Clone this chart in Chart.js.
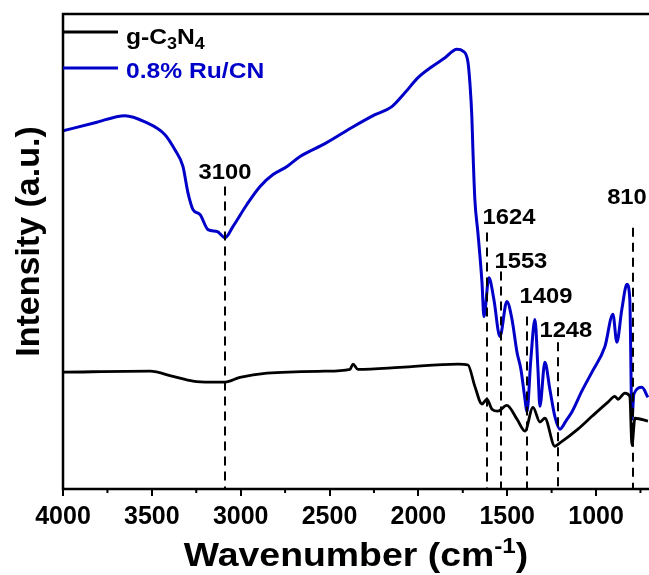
<!DOCTYPE html>
<html>
<head>
<meta charset="utf-8">
<script src="https://cdn.jsdelivr.net/npm/chart.js@4.4.0/dist/chart.umd.min.js"></script>
<style>
html, body { margin: 0; padding: 0; background: #fff; }
canvas { display: block; }
</style>
</head>
<body>
<canvas id="grafico" width="649" height="575"></canvas>
<script>
// Espectro FTIR 0.8% Ru/CN (curva azul)
const ruWn = [4000, 3820, 3651, 3539, 3426, 3370, 3325, 3297, 3268, 3229, 3184, 3133, 3088, 3043, 2965, 2891, 2818, 2739, 2666, 2526, 2374, 2244, 2149, 2076, 2002, 1924, 1850, 1783, 1749, 1721, 1710, 1699, 1693, 1682, 1665, 1642, 1631, 1603, 1575, 1541, 1502, 1473, 1445, 1423, 1400, 1389, 1367, 1344, 1327, 1316, 1288, 1260, 1232, 1203, 1170, 1136, 1080, 1023, 950, 905, 883, 855, 826, 810, 798, 787, 742, 708]
const ruI = [75.4, 77.1, 78.6, 77.3, 74.6, 71.4, 67.9, 62.4, 58.8, 57.8, 54.6, 54.2, 52.9, 55.3, 59.9, 63.7, 66.2, 67.9, 70.0, 72.7, 76.1, 78.8, 80.5, 83.4, 86.6, 88.9, 90.8, 92.6, 92.2, 89.9, 85.5, 78.4, 71.4, 60.9, 54.0, 43.5, 36.3, 44.5, 39.9, 32.1, 39.5, 35.7, 28.8, 25.2, 18.9, 16.2, 27.3, 35.7, 25.2, 17.4, 26.7, 21.0, 15.3, 12.6, 14.3, 16.2, 20.6, 24.6, 30.0, 36.8, 30.9, 37.8, 43.1, 39.9, 14.7, 20.0, 21.4, 19.3]

// Espectro g-C3N4 (curva negra)
const cnWn = [4000, 3510, 3381, 3268, 3173, 3088, 3004, 2852, 2526, 2385, 2368, 2340, 2104, 1777, 1721, 1682, 1642, 1614, 1586, 1552, 1502, 1445, 1400, 1355, 1316, 1288, 1232, 1203, 1102, 1023, 933, 894, 877, 838, 810, 798, 781, 708]
const cnI = [24.6, 24.8, 23.7, 22.7, 22.5, 22.5, 23.5, 24.4, 24.8, 25.2, 26.3, 25.2, 25.6, 26.3, 26.1, 21.6, 17.9, 18.9, 16.8, 16.4, 17.6, 14.7, 12.2, 17.2, 14.1, 14.9, 9.0, 9.7, 12.6, 15.3, 18.3, 19.5, 18.9, 20.2, 19.5, 9.2, 14.9, 14.3]

// Ejes
const xTicks = [4000, 3500, 3000, 2500, 2000, 1500, 1000]
const xMinor = [3750, 3250, 2750, 2250, 1750, 1250, 750]

// Picos marcados (linea discontinua + etiqueta)
const peakWn = [3088, 1616, 1537, 1391, 1213, 794]
const peakTop = [63.7, 54.0, 45.8, 36.3, 30.9, 55.0]
const peakText = ['3100', '1624', '1553', '1409', '1248', '810']
const peakTextWn = [3088, 1490, 1423, 1282, 1170, 826]
const peakTextI = [66.6, 57.1, 47.9, 40.5, 33.2, 61.3]

const AZUL = '#0000c8'
const FUENTE = '"Liberation Sans", Arial, sans-serif'

function puntos(xs, ys) {
    return xs.map((x, i) => ({ x, y: ys[i] }))
}

// texto un poco ensanchado en horizontal, como en la figura original
function textoAncho(ctx, t, x, y, k) {
    ctx.save()
    ctx.translate(x, y)
    ctx.scale(k, 1)
    ctx.fillText(t, 0, 0)
    ctx.restore()
}

// Marco, ticks menores, picos, leyenda y titulos
const decoPlugin = {
    id: 'deco',
    afterDatasetsDraw(chart) {
        const { ctx, chartArea: a, scales: { x, y } } = chart
        ctx.save()
        ctx.strokeStyle = '#000'
        ctx.lineWidth = 2
        ctx.setLineDash([9, 6])
        peakWn.forEach((w, i) => {
            const px = Math.round(x.getPixelForValue(w))
            ctx.beginPath()
            ctx.moveTo(px, y.getPixelForValue(peakTop[i]))
            ctx.lineTo(px, a.bottom)
            ctx.stroke()
        })
        ctx.setLineDash([])
        ctx.fillStyle = '#000'
        ctx.font = 'bold 22px ' + FUENTE
        ctx.textAlign = 'center'
        ctx.textBaseline = 'middle'
        peakText.forEach((t, i) => {
            textoAncho(ctx, t, x.getPixelForValue(peakTextWn[i]), y.getPixelForValue(peakTextI[i]), 1.08)
        })
        ctx.restore()
    },
    afterDraw(chart) {
        const { ctx, chartArea: a, scales: { x } } = chart
        ctx.save()
        // marco (el borde derecho queda fuera de la imagen)
        ctx.strokeStyle = '#000'
        ctx.lineWidth = 2.5
        ctx.beginPath()
        ctx.moveTo(chart.width + 5, a.top)
        ctx.lineTo(a.left, a.top)
        ctx.lineTo(a.left, a.bottom)
        ctx.lineTo(chart.width + 5, a.bottom)
        ctx.stroke()
        // ticks menores
        ctx.lineWidth = 2
        xMinor.forEach(v => {
            const px = x.getPixelForValue(v)
            ctx.beginPath()
            ctx.moveTo(px, a.bottom)
            ctx.lineTo(px, a.bottom + 4)
            ctx.stroke()
        })

        // leyenda
        const lx = a.left
        ctx.lineWidth = 3
        ctx.strokeStyle = '#000'
        ctx.beginPath(); ctx.moveTo(lx, 32); ctx.lineTo(lx + 55, 32); ctx.stroke()
        ctx.strokeStyle = AZUL
        ctx.beginPath(); ctx.moveTo(lx, 68); ctx.lineTo(lx + 55, 68); ctx.stroke()

        ctx.textBaseline = 'alphabetic'
        ctx.textAlign = 'left'
        ctx.fillStyle = '#000'
        const k = 1.12
        let tx = lx + 63
        const partes = [['g-C', 0], ['3', 1], ['N', 0], ['4', 1]]
        partes.forEach(([t, sub]) => {
            ctx.font = sub ? 'bold 16px ' + FUENTE : 'bold 22px ' + FUENTE
            textoAncho(ctx, t, tx, sub ? 49 : 44, k)
            tx += ctx.measureText(t).width * k
        })
        ctx.fillStyle = AZUL
        ctx.font = 'bold 22px ' + FUENTE
        textoAncho(ctx, '0.8% Ru/CN', lx + 63, 78, k)

        // titulo eje x con superindice
        ctx.fillStyle = '#000'
        const f1 = 'bold 34px ' + FUENTE
        const f2 = 'bold 22px ' + FUENTE
        const kx = 1.1
        ctx.font = f1
        const w1 = ctx.measureText('Wavenumber (cm').width * kx
        const w3 = ctx.measureText(')').width * kx
        ctx.font = f2
        const w2 = ctx.measureText('-1').width * kx
        let sx = (a.left + a.right) / 2 - (w1 + w2 + w3) / 2
        const by = 566
        ctx.font = f1
        textoAncho(ctx, 'Wavenumber (cm', sx, by, kx)
        sx += w1
        ctx.font = f2
        textoAncho(ctx, '-1', sx, by - 13, kx)
        sx += w2
        ctx.font = f1
        textoAncho(ctx, ')', sx, by, kx)

        // titulo eje y
        ctx.translate(30, (a.top + a.bottom) / 2 - 10)
        ctx.rotate(-Math.PI / 2)
        ctx.textAlign = 'center'
        ctx.textBaseline = 'middle'
        ctx.font = f1
        ctx.fillText('Intensity (a.u.)', 0, 0)
        ctx.restore()
    }
}

function init() {
    const ctx = document.getElementById('grafico')
    new Chart(ctx, {
        type: 'line',
        data: {
            datasets: [
                { label: 'g-C3N4', data: puntos(cnWn, cnI), borderColor: '#000', borderWidth: 2.8 },
                { label: '0.8% Ru/CN', data: puntos(ruWn, ruI), borderColor: AZUL, borderWidth: 3 }
            ]
        },
        options: {
            responsive: false,
            animation: false,
            devicePixelRatio: 1,
            layout: { padding: { left: 63, right: 0, top: 14, bottom: 37 } },
            elements: {
                point: { radius: 0 },
                line: { cubicInterpolationMode: 'monotone', fill: false }
            },
            plugins: { legend: { display: false }, tooltip: { enabled: false } },
            scales: {
                x: {
                    type: 'linear',
                    reverse: true,
                    min: 702,
                    max: 4000,
                    afterBuildTicks: s => { s.ticks = xTicks.map(v => ({ value: v })) },
                    grid: { drawOnChartArea: false, drawTicks: true, tickLength: 7, color: '#000', lineWidth: 2 },
                    border: { display: false },
                    ticks: {
                        padding: 6,
                        maxRotation: 0,
                        color: '#000',
                        font: { family: FUENTE, size: 25, weight: 'bold' },
                        callback: v => String(v)
                    }
                },
                y: { display: false, min: 0, max: 100 }
            }
        },
        plugins: [decoPlugin]
    })
}

document.addEventListener('DOMContentLoaded', init)
</script>
</body>
</html>
